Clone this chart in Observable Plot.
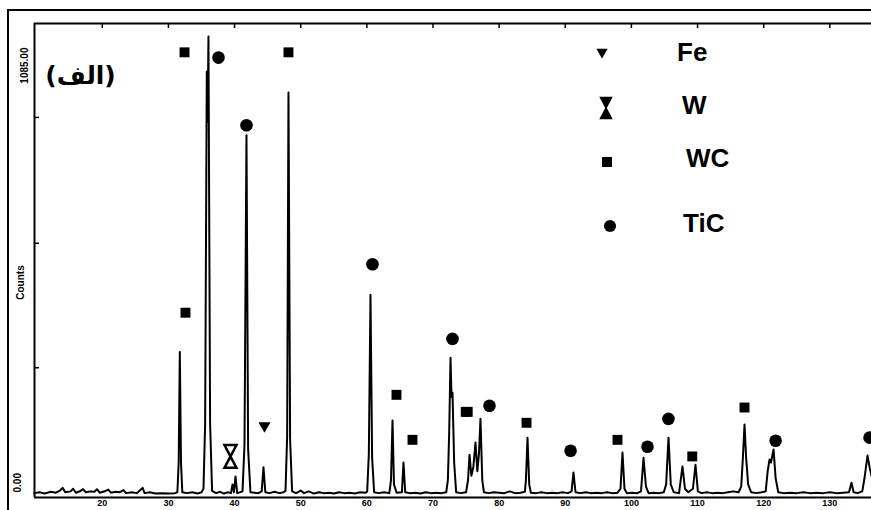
<!DOCTYPE html>
<html><head><meta charset="utf-8">
<script src="https://cdn.jsdelivr.net/npm/d3@7"></script>
<script src="https://cdn.jsdelivr.net/npm/@observablehq/plot@0.6"></script>
<style>
body{margin:0;background:#fff;}
#wrap{position:relative;width:871px;height:510px;overflow:hidden;background:#fff;}
#border{position:absolute;left:7px;top:9px;width:900px;height:600px;border-left:2px solid #000;border-top:2px solid #000;pointer-events:none;}
#legend{position:absolute;left:0;top:0;pointer-events:none;}
</style></head><body><div id="wrap"><div id="border"></div></div>
<script>
// ---- XRD profile (2θ in degrees, counts) ----
const twoTheta = [9.75,10.5,11.3,12.2,13.0,13.6,14.0,14.4,15.2,15.6,16.0,16.7,17.1,17.5,18.2,18.8,19.2,19.6,20.5,20.9,21.3,22.0,22.6,23.2,23.6,24.5,25.2,26.1,26.4,27.2,28.0,29.0,30.0,31.0,
 31.35,31.55,31.72,31.9,32.1,32.8,33.6,34.4,35.0,
 35.3,35.55,35.8,35.93,36.05,36.3,36.6,
 37.2,37.8,38.4,39.0,39.45,39.69,39.9,40.14,40.4,
 41.2,41.5,41.8,42.05,42.4,43.0,43.6,44.1,44.37,44.65,45.3,46.0,46.8,47.4,
 47.7,47.95,48.15,48.4,48.7,49.3,50.0,50.5,51.2,52.0,52.8,53.5,54.3,55.0,55.8,56.6,57.4,58.2,59.0,59.8,
 60.05,60.3,60.55,60.8,61.1,61.8,62.6,63.4,63.65,63.88,64.1,64.5,65.3,65.54,65.8,
 66.5,67.3,68.1,68.9,69.7,70.5,71.3,72.0,
 72.25,72.45,72.65,72.8,72.95,73.2,73.5,
 74.2,75.0,75.3,75.52,75.8,76.1,76.43,76.7,76.95,77.18,77.45,77.7,
 78.4,79.2,80.0,80.8,81.6,82.4,83.2,83.9,84.05,84.29,84.55,84.8,
 85.6,86.4,87.2,88.0,88.8,89.6,90.4,90.95,91.24,91.55,
 92.3,93.1,93.9,94.7,95.5,96.3,97.1,97.9,98.35,98.65,98.95,99.3,
 100.1,100.9,101.45,101.83,102.2,102.6,103.4,104.2,104.9,105.25,105.61,105.95,106.4,
 107.2,107.72,108.1,108.6,109.3,109.69,110.05,110.6,
 111.4,112.2,113.0,113.8,114.6,115.4,116.2,116.6,116.85,117.1,117.35,117.65,118.1,
 118.9,119.7,120.3,120.6,120.88,121.1,121.49,121.8,122.2,
 123.0,124.0,125.0,126.0,127.0,128.0,129.0,130.0,131.0,132.0,132.9,133.27,133.6,134.2,134.9,135.2,135.7,136.0,136.3];
const counts = [10,12,9,13,11,16,22,12,14,20,11,15,19,12,14,13,19,11,15,18,11,13,12,17,10,12,10,22,10,12,9,10,9,10,
 12,80,333,80,12,10,12,9,12,
 20,170,975,860,1055,170,15,
 10,13,9,12,10,30,12,48,10,
 14,120,829,110,12,11,10,14,69,12,10,13,10,12,
 15,140,927,130,14,10,16,10,14,9,12,10,11,9,12,10,11,9,12,11,
 14,100,464,90,12,10,12,10,40,176,30,11,12,80,12,
 10,11,9,12,10,11,10,12,
 40,150,320,230,240,80,12,
 10,12,40,98,50,70,126,60,100,180,40,12,
 10,12,11,10,14,10,11,13,40,137,30,11,
 10,12,10,11,10,12,10,14,57,12,
 10,12,10,11,10,12,10,11,20,103,20,10,
 11,10,14,91,25,10,11,10,12,30,137,30,12,
 10,71,20,12,20,75,14,10,
 12,10,11,10,12,14,12,25,90,167,90,30,12,
 10,12,14,60,87,80,110,45,12,
 10,11,10,12,10,11,10,12,10,11,12,34,12,10,14,40,96,70,50];

// ---- phase markers ----
const wcTheta  = [32.43,32.58,48.15,64.48,66.9,74.95,75.25,84.14,97.9,109.2,117.1];
const wcCounts = [1019,423,1019,235,132,196,196,171,132,94,206];
const ticTheta  = [37.57,41.8,60.85,72.95,78.54,90.8,102.43,105.6,121.8,136.0];
const ticCounts = [1007,852,534,363,210,107,116,180,130,137];
const wTheta = [39.38];
const wCounts = [94];
const feTheta = [44.52];
const feCounts = [164];

// ---- axes ----
const xDomain = [9.75, 136.3];
const yDomain = [0, 1085];
const xTicks = [20,30,40,50,60,70,80,90,100,110,120,130];
const yTicks = [297,582,870];
const yEndLabels = ["0.00","1085.00"];
const yTitle = "Counts";
const panelLabel = "(الف)";
const phases = ["Fe","W","WC","TiC"];

const profile = twoTheta.map((t,i)=>({t, c: counts[i]}));
const pts = (xs, ys) => xs.map((t,i)=>({t, c: ys[i]}));

const hourglass = {draw(ctx, size){
  const r = Math.sqrt(size/Math.PI), h = r*1.9;
  ctx.moveTo(-r,-h); ctx.lineTo(r,-h); ctx.lineTo(-r,h); ctx.lineTo(r,h); ctx.closePath();
}};

const W = 871, H = 510, mL = 34, mT = 23, mB = 13, mR = 0;
const frameW = W - mL - mR, frameH = H - mT - mB;
const font = "Liberation Sans, Arial, sans-serif";

const chart = Plot.plot({
  width: W, height: H,
  marginLeft: mL, marginTop: mT, marginBottom: mB, marginRight: mR,
  style: {fontFamily: font, background: "#fff"},
  x: {domain: xDomain, label: null},
  y: {domain: yDomain, axis: null},
  marks: [
    Plot.ruleY([yDomain[0]], {stroke: "#000", strokeWidth: 2}),
    Plot.ruleY([yDomain[1]], {stroke: "#000", strokeWidth: 2}),
    Plot.ruleX([xDomain[0]], {stroke: "#000", strokeWidth: 2}),
    Plot.tickX(xTicks, {x: d=>d, insetBottom: frameH - 5, stroke: "#000", strokeWidth: 1.5}),
    Plot.tickY(yTicks, {y: d=>d, insetRight: frameW - 5, stroke: "#000", strokeWidth: 1.5}),
    Plot.axisX({ticks: xTicks, tickSize: 1, tickPadding: 1, fontSize: 9, fontWeight: "bold", stroke: "#000", label: null, fill: "#000"}),
    Plot.line(profile, {x: "t", y: "c", stroke: "#000", strokeWidth: 2, strokeLinejoin: "round"}),
    Plot.dot(pts(wcTheta, wcCounts), {x: "t", y: "c", symbol: "square", r: 5.6, fill: "#000"}),
    Plot.dot(pts(ticTheta, ticCounts), {x: "t", y: "c", symbol: "circle", r: 6.3, fill: "#000"}),
    Plot.dot(pts(wTheta, wCounts), {x: "t", y: "c", symbol: hourglass, r: 6, fill: "#fff", stroke: "#000", strokeWidth: 2.5}),
    Plot.dot(pts(feTheta, feCounts), {x: "t", y: "c", symbol: "triangle", r: 4.5, rotate: 180, fill: "#000"}),
    Plot.text([yEndLabels[1]], {frameAnchor: "top-left", dx: -14, dy: 24, rotate: -90, textAnchor: "end", fontSize: 10, fontWeight: "bold", fill: "#000"}),
    Plot.text([yEndLabels[0]], {frameAnchor: "bottom-left", dx: -14, dy: -5, rotate: -90, textAnchor: "start", fontSize: 10, fontWeight: "bold", fill: "#000"}),
    Plot.text([yTitle], {frameAnchor: "left", dx: -14, dy: 22, rotate: -90, textAnchor: "middle", fontSize: 10, fontWeight: "bold", fill: "#000"}),
    Plot.text([panelLabel], {frameAnchor: "top-left", dx: 46, dy: 43, textAnchor: "middle", fontSize: 25, fontWeight: "bold", fontFamily: "DejaVu Sans", fill: "#000"})
  ]
});
const wrap = document.getElementById("wrap");
wrap.insertBefore(chart, wrap.firstChild);

// ---- legend (top right) ----
const leg = d3.select(wrap).append("svg").attr("id","legend").attr("width", W).attr("height", H);
const legSym = [
  {p: phases[0], type: d3.symbolTriangle, size: 55, rot: 180, sx: 602, sy: 52, tx: 677, ty: 52, fill: "#000", stroke: "none"},
  {p: phases[1], type: hourglass, size: Math.PI*30, rot: 0, sx: 606, sy: 108, tx: 682, ty: 105, fill: "#000", stroke: "#000"},
  {p: phases[2], type: d3.symbolSquare, size: 100, rot: 0, sx: 607, sy: 162, tx: 686, ty: 158, fill: "#000", stroke: "none"},
  {p: phases[3], type: d3.symbolCircle, size: 115, rot: 0, sx: 610, sy: 226, tx: 683, ty: 223, fill: "#000", stroke: "none"}
];
leg.selectAll("path").data(legSym).join("path")
  .attr("d", d => d3.symbol(d.type, d.size)())
  .attr("transform", d => `translate(${d.sx},${d.sy}) rotate(${d.rot})`)
  .attr("fill", d => d.fill).attr("stroke", d => d.stroke).attr("stroke-width", 1.5);
leg.selectAll("text").data(legSym).join("text")
  .attr("x", d => d.tx).attr("y", d => d.ty).attr("dy", "0.36em")
  .attr("font-family", font).attr("font-size", 26).attr("font-weight", "bold")
  .text(d => d.p);
</script>
</body></html>
